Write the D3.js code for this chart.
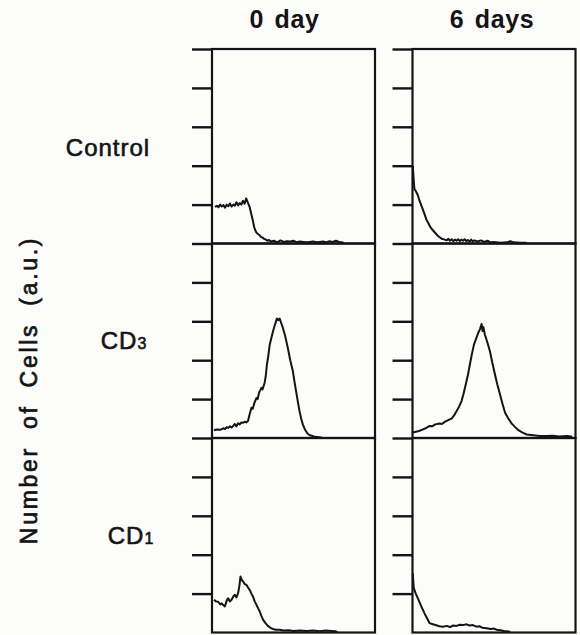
<!DOCTYPE html>
<html>
<head>
<meta charset="utf-8">
<script src="https://cdn.jsdelivr.net/npm/d3@7"></script>
<style>
  html, body { margin: 0; padding: 0; background: #fcfcfb; }
  svg { display: block; }
</style>
</head>
<body>
<svg id="chart" width="580" height="635"></svg>
<script>
// ---------- DATA ----------
const columns = ["0 day", "6 days"];
const rows = ["Control", "CD3", "CD1"];
const rowLabelMain = ["Control", "CD", "CD"];
const rowLabelSub = ["", "3", "1"];
const yTickValues = [1, 2, 3, 4, 5];
const yAxisTitle = "Number of Cells (a.u.)";

// Each series: [channel (0-100), count (tick units 0-5)]
const control0 = [[1.8,.94],[3,.97],[4,.93],[5,1.0],[6,.95],[7,.99],[8,.92],[9,1.0],[10,.96],[11,1.03],[12,.95],[13,1.0],[14,.97],[15,1.06],[16,.98],[17,1.04],[18,1.0],[19,1.1],[20,1.02],[21,1.16],[22,1.05],[23,.95],[24,.78],[25,.6],[26,.4],[27,.3],[28,.25],[29,.22],[30,.17],[31,.15],[32,.12],[33,.1],[34,.07],[35,.09],[36,.05],[38,.07],[40,.03],[42,.08],[44,.04],[46,.06],[48,.05],[50,.07],[52,.03],[54,.05],[56,.04],[58,.03],[60,.04],[62,.05],[64,.03],[66,.04],[68,.05],[70,.03],[72,.06],[74,.04],[76,.07],[78,.04],[80,.03],[81,0]];
const control6 = [[0.2,2.0],[0.8,1.6],[1.2,1.4],[2,1.35],[3.3,1.24],[4.3,1.1],[5.4,.98],[7,.8],[8.5,.62],[10,.5],[11,.42],[12.5,.34],[14,.27],[15.5,.2],[16.7,.16],[18,.12],[19.8,.1],[21,.08],[22,.12],[23,.07],[24,.11],[25,.06],[26,.1],[27,.07],[28,.11],[29,.06],[30,.1],[31,.07],[32,.11],[33,.06],[34,.09],[35,.05],[36,.1],[37,.05],[38,.08],[40,.05],[42,.08],[44,.04],[46,.07],[48,.03],[50,.04],[54,.02],[58,.03],[60,.06],[62,.03],[66,.02],[70,.02]];
const cd3Day0 = [[1.2,.2],[3,.22],[5,.21],[6.9,.25],[8,.23],[9,.28],[10,.26],[11,.3],[12,.27],[13,.31],[14,.36],[15,.3],[16,.38],[17,.35],[18,.4],[19.1,.39],[20,.42],[21,.4],[22.1,.44],[23,.6],[24.2,.78],[25,.75],[26,.9],[27.3,1.03],[28,1.0],[29,1.18],[30.3,1.29],[31,1.25],[32.3,1.42],[33,1.6],[33.7,1.89],[34.5,2.1],[35.4,2.4],[36.3,2.55],[37.4,2.74],[38.5,2.9],[39.8,3.07],[40.6,3.03],[41.5,3.07],[42.5,2.95],[43.5,2.83],[45,2.6],[46.5,2.32],[48,2.0],[49.6,1.72],[50.6,1.45],[51.6,1.2],[52.6,.95],[53.7,.69],[54.7,.5],[55.7,.35],[57,.22],[58.7,.11],[60,.07],[61.8,.05],[63,.03],[65.9,.02],[68,0]];
const cd3Day6 = [[0.2,.14],[2,.16],[4,.18],[6.4,.22],[8,.25],[10.5,.31],[12,.3],[14,.35],[16.7,.37],[18,.36],[20,.42],[22.8,.48],[24,.5],[25.5,.58],[27,.69],[28.5,.8],[30.1,.95],[31.4,1.15],[32.7,1.38],[34,1.62],[35.2,1.89],[36.4,2.15],[37.7,2.4],[39,2.55],[40.3,2.7],[41.4,2.8],[42.4,2.93],[43,2.75],[43.5,2.85],[44.4,2.66],[46,2.45],[47.5,2.23],[49,1.93],[50.6,1.63],[52,1.38],[53.7,1.12],[55.2,.88],[56.8,.65],[58.8,.5],[60.9,.37],[63,.28],[65,.2],[67.5,.14],[70.2,.09],[74,.07],[78,.05],[82.5,.05],[86,.06],[90,.04],[94.9,.05],[98,.03]];
const cd1Day0 = [[1.2,.84],[2.5,.8],[3.8,.79],[5,.72],[5.9,.75],[7,.7],[7.9,.67],[9,.82],[9.9,.88],[11,.8],[12,.84],[13,.92],[14,.97],[15,.9],[16,1.01],[16.8,1.2],[17.5,1.44],[18.3,1.35],[19.1,1.31],[20,1.25],[21.2,1.22],[22.2,1.15],[23.2,1.09],[24.2,1.0],[25.2,.92],[26.2,.8],[27.3,.71],[28.3,.62],[29.3,.54],[30.3,.43],[31.3,.33],[32.8,.24],[34.3,.17],[35.8,.12],[37.4,.09],[39,.07],[41.5,.07],[44,.05],[47,.06],[50,.04],[54,.05],[58,.04],[62,.05],[66,.03],[70,.05],[73,.04],[76,.03],[77,0]];
const cd1Day6 = [[0.2,1.52],[0.5,1.3],[0.8,1.14],[2,1.0],[3.3,.88],[4.3,.78],[5.4,.67],[6.4,.58],[7.4,.49],[9,.36],[10.5,.24],[12,.22],[13.6,.2],[15,.18],[16.5,.16],[18.7,.15],[21,.17],[23,.14],[25,.18],[27,.17],[29,.2],[31,.19],[33.2,.21],[35,.18],[37,.19],[39.3,.15],[41,.16],[43,.12],[45.5,.11],[48,.09],[50,.1],[51.7,.07],[54,.06],[56,.04],[57.9,.03],[60,.02]];

const seriesGrid = [
  [control0, control6],
  [cd3Day0, cd3Day6],
  [cd1Day0, cd1Day6]
];

// ---------- LAYOUT ----------
const ink = "#141414";
const svg = d3.select("#chart");

const colScale = d3.scaleBand().domain(columns).range([212, 575.5]).paddingInner(0.187).paddingOuter(0);
const rowScale = d3.scaleBand().domain(rows).range([49, 632.5]).padding(0);
const tickLen = 20;

// column headers
const headerDx = [-9, -2];
svg.selectAll("text.header").data(columns).join("text")
  .attr("class", "header")
  .attr("x", (d, i) => colScale(d) + colScale.bandwidth() / 2 + headerDx[i])
  .attr("y", 28)
  .attr("text-anchor", "middle")
  .attr("font-family", "Liberation Sans, Arial, sans-serif")
  .attr("font-weight", "bold")
  .attr("font-size", 25)
  .attr("letter-spacing", 0.6)
  .attr("word-spacing", 3)
  .attr("fill", ink)
  .text(d => d);

// row labels
const rowLabelX = [108, 124, 131];
const rowLabelDy = [10, 8, 9];
rows.forEach((r, i) => {
  const t = svg.append("text")
    .attr("x", rowLabelX[i])
    .attr("y", rowScale(r) + rowScale.bandwidth() / 2 + rowLabelDy[i])
    .attr("text-anchor", "middle")
    .attr("font-family", "Liberation Sans, Arial, sans-serif")
    .attr("font-size", 24)
    .attr("letter-spacing", 1)
    .attr("fill", ink)
    .attr("stroke", ink)
    .attr("stroke-width", 0.6);
  t.append("tspan").text(rowLabelMain[i]);
  if (rowLabelSub[i]) t.append("tspan").attr("font-size", 16).text(rowLabelSub[i]);
});

// y-axis title
svg.append("text")
  .attr("transform", "translate(37,390) rotate(-90)")
  .attr("text-anchor", "middle")
  .attr("font-family", "Liberation Sans, Arial, sans-serif")
  .attr("font-size", 23)
  .attr("letter-spacing", 2.7)
  .attr("word-spacing", 8)
  .attr("fill", ink)
  .attr("stroke", ink)
  .attr("stroke-width", 0.7)
  .text(yAxisTitle);

// panels
const line = d3.line().curve(d3.curveLinear);
rows.forEach((r, ri) => {
  columns.forEach((c, ci) => {
    const x0 = colScale(c), w = colScale.bandwidth();
    const y0 = rowScale(r), h = rowScale.bandwidth();
    const x = d3.scaleLinear().domain([0, 100]).range([x0, x0 + w]);
    const y = d3.scaleLinear().domain([0, 5]).range([y0 + h, y0]);
    const g = svg.append("g");

    // frame
    g.append("rect")
      .attr("x", x0).attr("y", y0).attr("width", w).attr("height", h)
      .attr("fill", "none").attr("stroke", ink).attr("stroke-width", 2.2);

    // ticks
    const axis = d3.axisLeft(y).tickValues(yTickValues).tickSize(tickLen).tickSizeOuter(0).tickFormat("");
    const ag = g.append("g").attr("transform", `translate(${x0},0)`).call(axis);
    ag.select(".domain").remove();
    ag.selectAll(".tick line").attr("stroke", ink).attr("stroke-width", 2.4);

    // histogram curve
    line.x(d => x(d[0])).y(d => y(d[1]));
    g.append("path")
      .datum(seriesGrid[ri][ci])
      .attr("d", line)
      .attr("fill", "none")
      .attr("stroke", ink)
      .attr("stroke-width", 2)
      .attr("stroke-linejoin", "round");
  });
});
</script>
</body>
</html>
